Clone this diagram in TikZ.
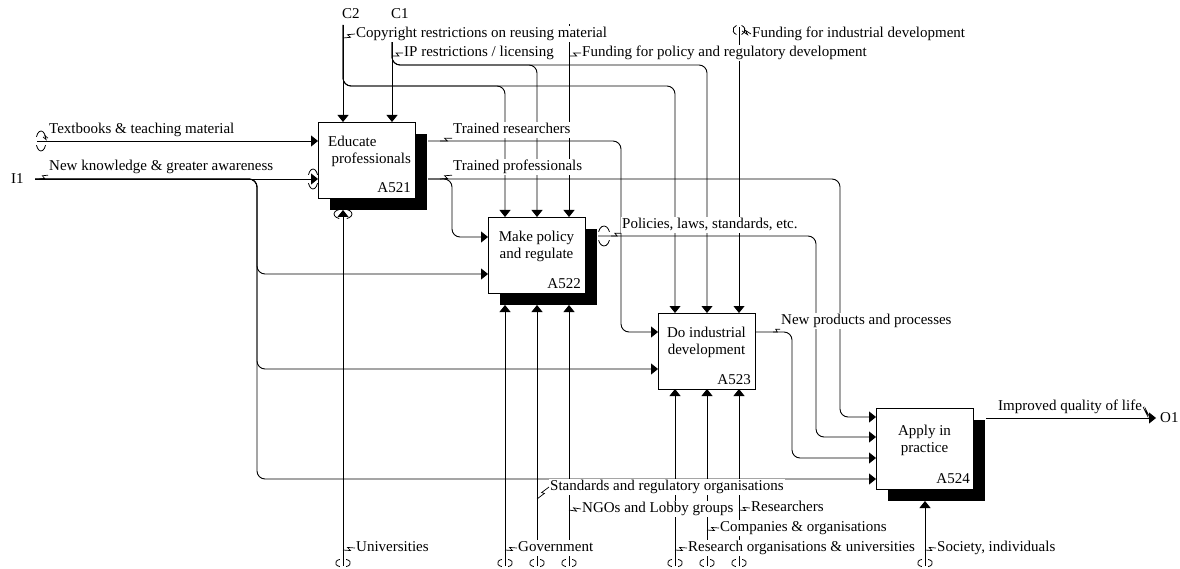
\documentclass[tikz,border=0pt]{standalone}
\usepackage{fontspec}
\setmainfont{Liberation Serif}
\usetikzlibrary{arrows.meta,calc,shadows}
\newcommand\myzig[2]{\draw[sq] (#1) -- ($(#1)!0.62!(#2)+(0,1.8)$) -- ($(#1)!0.38!(#2)+(0,-1.8)$) -- (#2);}
\newcommand\tunh[3]{%
  \draw[tun] ($(#1)+(25:#2 and #3)$) arc[start angle=25,end angle=155,x radius=#2,y radius=#3];
  \draw[tun] ($(#1)+(205:#2 and #3)$) arc[start angle=205,end angle=335,x radius=#2,y radius=#3];}
\newcommand\tunv[3]{%
  \draw[tun] ($(#1)+(115:#2 and #3)$) arc[start angle=115,end angle=245,x radius=#2,y radius=#3];
  \draw[tun] ($(#1)+(-65:#2 and #3)$) arc[start angle=-65,end angle=65,x radius=#2,y radius=#3];}
\begin{document}
\begin{tikzpicture}[x=1pt,y=-1pt,
  every node/.style={font=\fontsize{15}{17}\selectfont, inner sep=0pt},
  ln/.style={line width=0.9pt},
  arr/.style={ln, -{Triangle[length=7pt,width=11pt]}},
  lab/.style={fill=white, anchor=west, inner xsep=1pt, inner ysep=1.5pt, text height=10pt, text depth=3pt},
  sq/.style={line width=0.7pt},
  rc/.style={rounded corners=8pt},
  box/.style={draw, fill=white, line width=0.9pt, minimum width=97pt, minimum height=76pt, anchor=north west, outer sep=0pt},
  shad/.style={general shadow={fill=black, shadow xshift=12pt, shadow yshift=-12pt}},
  ttl/.style={align=center, anchor=north},
  num/.style={anchor=base east},
  tun/.style={line width=0.8pt}
]
\useasboundingbox (0,0) rectangle (1180,569);

% boxes
\node[box,shad] (b1) at (318,122) {};
\node[box,shad] (b2) at (488,217) {};
\node[box] (b3) at (658,313) {};
\node[box,shad,minimum height=81pt] (b4) at (876,408) {};

\node[align=left, anchor=north west] (t1) at ($(b1.north west)+(10,14)$) {Educate\\\hspace*{3.5pt}professionals};
\node[ttl] (t2) at ($(b2.north)+(0,14)$) {Make policy\\and regulate};
\node[ttl] (t3) at ($(b3.north)+(0,14)$) {Do industrial\\development};
\node[ttl] (t4) at ($(b4.north)+(0,17)$) {Apply in\\practice};
\node[num] (n1) at ($(b1.south east)+(-4,-5)$) {A521};
\node[num] (n2) at ($(b2.south east)+(-4,-5)$) {A522};
\node[num] (n3) at ($(b3.south east)+(-4,-5)$) {A523};
\node[num] (n4) at ($(b4.south east)+(-3,-6)$) {A524};

% end points
\coordinate (c2) at (343,25);
\coordinate (c1) at (392,27);
\coordinate (cfp) at (569,24);
\coordinate (cfi) at (739,27);
\coordinate (tb) at (37,141);
\coordinate (i1) at (35,179);
\coordinate (mU) at (343,566);
\coordinate (mG) at (505,566);
\coordinate (mS) at (537,566);
\coordinate (mN) at (569,566);
\coordinate (mR) at (675,566);
\coordinate (mC) at (707,566);
\coordinate (mRs) at (739,566);
\coordinate (mSo) at (925,566);
\coordinate (o1) at (1156,418);
\coordinate (b1o1) at (428,141);
\coordinate (b1o2) at (428,179);
\coordinate (b2o) at (598,236);
\coordinate (b3o) at (b3.east |- 0,332);
\coordinate (b4o) at (986,418);

% controls
\draw[arr] (c2) -- (c2 |- b1.north);
\draw[arr] (c1) -- (c1 |- b1.north);
\draw[arr,rc] (c2) |- (mR |- 0,86) -- (mR |- b3.north);
\draw[arr,rc] (c2) |- (mG |- 0,86) -- (mG |- b2.north);
\draw[arr,rc] (c1) |- (mC |- 0,65) -- (mC |- b3.north);
\draw[arr,rc] (c1) |- (mS |- 0,65) -- (mS |- b2.north);
\draw[arr] (cfp) -- (cfp |- b2.north);
\draw[arr] (cfi) -- (cfi |- b3.north);

% inputs
\draw[arr] (tb) -- (tb -| b1.west);
\draw[arr] (i1) -- (i1 -| b1.west);
\draw[arr,rc] (i1) -| (257,274) -- (b2.west |- 0,274);
\draw[arr,rc] (i1) -| (257,369) -- (b3.west |- 0,369);
\draw[arr,rc] (i1) -| (257,479) -- (b4.west |- 0,479);

% outputs
\draw[arr,rc] (b1o1) -| (621,332) -- (b3.west |- 0,332);
\draw[arr,rc] (b1o2) -| (840,417) -- (b4.west |- 0,417);
\draw[arr,rc] (b1o2) -| (452,237) -- (b2.west |- 0,237);
\draw[arr,rc] (b2o) -| (816,437) -- (b4.west |- 0,437);
\draw[arr,rc] (b3o) -| (792,458) -- (b4.west |- 0,458);
\draw[arr] (b4o) -- (o1);

% mechanisms
\draw[arr] (mU) -- ($(mU |- b1.south)+(0,12)$);
\draw[arr] (mG) -- ($(mG |- b2.south)+(0,12)$);
\draw[arr] (mS) -- ($(mS |- b2.south)+(0,12)$);
\draw[arr] (mN) -- ($(mN |- b2.south)+(0,12)$);
\draw[arr] (mR) -- (mR |- b3.south);
\draw[arr] (mC) -- (mC |- b3.south);
\draw[arr] (mRs) -- (mRs |- b3.south);
\draw[arr] (mSo) -- ($(mSo |- b4.south)+(0,12)$);

% labels
\node[anchor=west] (lC2) at (342,14) {C2};
\node[anchor=west] (lC1) at (391,14) {C1};
\node[anchor=west] (lI1) at (11,179) {I1};
\node[anchor=west] (lO1) at (1160,418) {O1};
\node[lab] (lCopy) at (355,34) {Copyright restrictions on reusing material};
\node[lab] (lIP) at (403,53) {IP restrictions / licensing};
\node[lab] (lFP) at (581,53) {Funding for policy and regulatory development};
\node[lab] (lFI) at (751,34) {Funding for industrial development};
\node[lab] (lTB) at (48,130) {Textbooks \& teaching material};
\node[lab] (lNK) at (48,167) {New knowledge \& greater awareness};
\node[lab] (lTR) at (452,130) {Trained researchers};
\node[lab] (lTP) at (452,167) {Trained professionals};
\node[lab] (lPol) at (621,225) {Policies, laws, standards, etc.};
\node[lab] (lNP) at (780,321) {New products and processes};
\node[lab] (lIQ) at (997,407) {Improved quality of life};
\node[lab] (lU) at (355,548) {Universities};
\node[lab] (lG) at (517,548) {Government};
\node[lab] (lS) at (549,487) {Standards and regulatory organisations};
\node[lab] (lN) at (581,509) {NGOs and Lobby groups};
\node[lab] (lR) at (687,548) {Research organisations \& universities};
\node[lab] (lC) at (719,528) {Companies \& organisations};
\node[lab] (lRs) at (750,508) {Researchers};
\node[lab] (lSo) at (936,548) {Society, individuals};

% squiggles
\myzig{343,38}{lCopy.west}
\myzig{392,56}{lIP.west}
\myzig{569,56}{lFP.west}
\myzig{742,31}{lFI.west}
\myzig{43,137}{lTB.south west}
\myzig{39,179}{lNK.south west}
\myzig{440,141}{lTR.south west}
\myzig{440,179}{lTP.south west}
\myzig{611,236}{lPol.south west}
\myzig{773,332}{lNP.south west}
\myzig{lIQ.east}{1150,418}
\myzig{343,550}{lU.west}
\myzig{505,550}{lG.west}
\myzig{537,499}{lS.west}
\myzig{569,510}{lN.west}
\myzig{675,550}{lR.west}
\myzig{707,530}{lC.west}
\myzig{739,510}{lRs.west}
\myzig{925,550}{lSo.west}

% tunnels
\tunh{41,141}{5}{10}
\tunh{313,179}{5}{10}
\tunh{604,236}{6}{10}
\tunv{739,30}{6}{5}
\tunv{343,214}{9}{5}
\foreach \xx in {343,505,537,569,675,707,739,925} {\tunv{\xx,563}{7.5}{4}}
\end{tikzpicture}
\end{document}
